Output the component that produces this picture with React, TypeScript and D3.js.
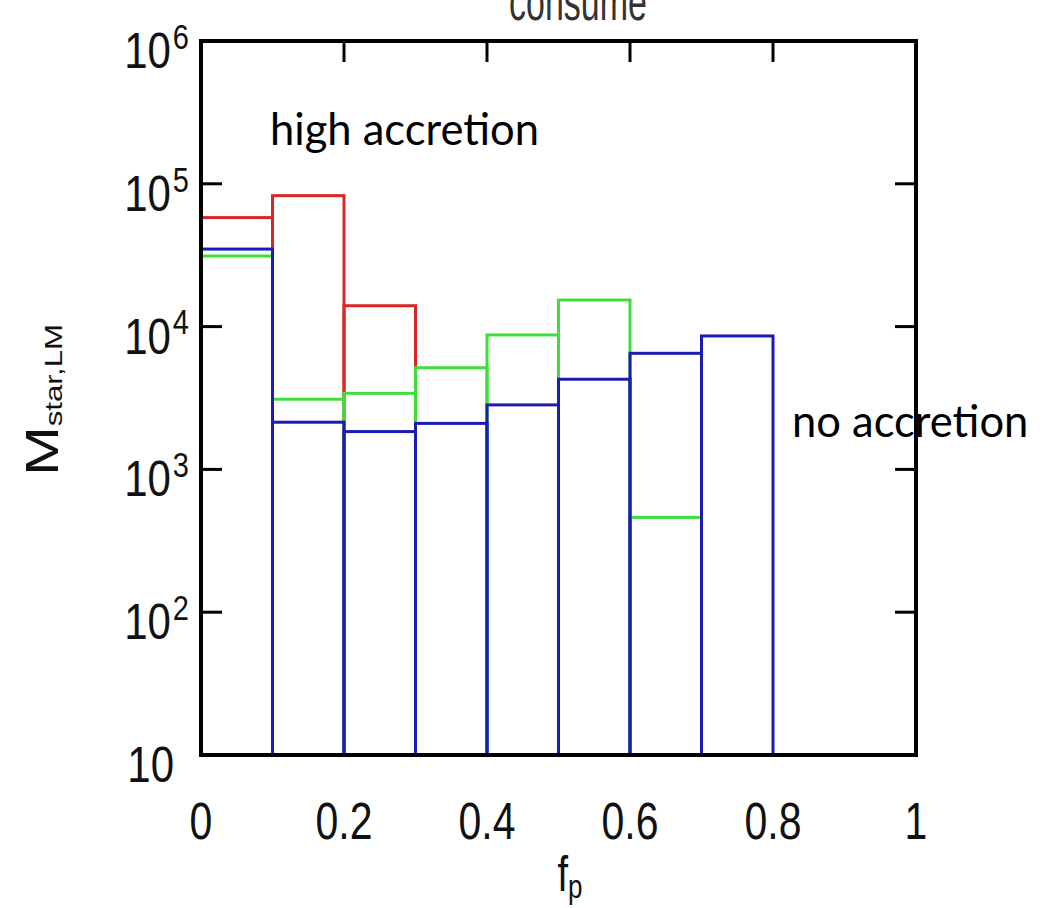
import React from "react";
import * as d3 from "d3";

// Bin edges along f_p (0.1 wide bins)
const binStarts = [0, 0.1, 0.2, 0.3, 0.4, 0.5, 0.6, 0.7];
const binWidth = 0.1;

// Stellar mass per bin for each run (null = empty bin)
const redValues: (number | null)[] = [58000, 82600, 14000, null, null, null, null, null];
const greenValues: (number | null)[] = [31200, 3100, 3410, 5150, 8740, 15350, 461, null];
const blueValues: (number | null)[] = [34900, 2140, 1840, 2100, 2830, 4280, 6500, 8600];

const xTicks = [0, 0.2, 0.4, 0.6, 0.8, 1];
const xTickLabels = ["0", "0.2", "0.4", "0.6", "0.8", "1"];
const yTicks = [10, 100, 1000, 10000, 100000, 1000000];
const yTickExponents = ["", "2", "3", "4", "5", "6"];

const seriesColors = ["#da2626", "#3ce03c", "#1c1cb4"];
const seriesList = [redValues, greenValues, blueValues];

const W = 1059;
const H = 908;
const plot = { left: 201, right: 916, top: 41, bottom: 755 };
const font = "'Liberation Sans', Arial, sans-serif";

function Label({
  x,
  y,
  anchor = "start",
  size,
  stretch = 1.25,
  rotate = 0,
  fill = "#111",
  children,
}: {
  x: number;
  y: number;
  anchor?: string;
  size: number;
  stretch?: number;
  rotate?: number;
  fill?: string;
  children: React.ReactNode;
}) {
  return (
    <text
      transform={`translate(${x},${y}) scale(1,${stretch})${rotate ? ` rotate(${rotate})` : ""}`}
      textAnchor={anchor}
      fontFamily={font}
      fontSize={size}
      fill={fill}
    >
      {children}
    </text>
  );
}

export default function App() {
  const x = d3.scaleLinear().domain([0, 1]).range([plot.left, plot.right]);
  const y = d3.scaleLog().domain([10, 1e6]).range([plot.bottom, plot.top]);
  const tickLen = 21;

  return (
    <div style={{ position: "absolute", left: 0, top: 0 }}>
      <svg width={W} height={H} style={{ display: "block", background: "#fff" }}>
        {/* title, partly above the canvas */}
        <Label x={578} y={20} anchor="middle" size={34} stretch={1.5} fill="#333">
          consume
        </Label>

        {/* histogram boxes */}
        {seriesList.map((vals, si) =>
          vals.map((v, i) =>
            v == null ? null : (
              <rect
                key={`s${si}-${i}`}
                x={x(binStarts[i])}
                y={y(v)}
                width={x(binStarts[i] + binWidth) - x(binStarts[i])}
                height={y(10) - y(v)}
                fill="none"
                stroke={seriesColors[si]}
                strokeWidth={3}
              />
            )
          )
        )}

        {/* annotations */}
        <text x={270} y={145} fontFamily="Lato, 'Open Sans', sans-serif" fontSize={43.5} fill="#000">
          high accretion
        </text>
        <text x={792} y={437} fontFamily="Lato, 'Open Sans', sans-serif" fontSize={43.5} fill="#000">
          no accretion
        </text>

        {/* ticks, inward on all sides */}
        {yTicks.slice(1, -1).map((t) => (
          <g key={`yt${t}`}>
            <line x1={plot.left} x2={plot.left + tickLen} y1={y(t)} y2={y(t)} stroke="#000" strokeWidth={3} />
            <line x1={plot.right} x2={plot.right - tickLen} y1={y(t)} y2={y(t)} stroke="#000" strokeWidth={3} />
          </g>
        ))}
        {xTicks.slice(1, -1).map((t) => (
          <line key={`xt${t}`} x1={x(t)} x2={x(t)} y1={plot.top} y2={plot.top + tickLen} stroke="#000" strokeWidth={3} />
        ))}

        {/* frame */}
        <rect
          x={plot.left}
          y={plot.top}
          width={plot.right - plot.left}
          height={plot.bottom - plot.top}
          fill="none"
          stroke="#000"
          strokeWidth={4}
        />

        {/* x tick labels */}
        {xTicks.map((t, i) => (
          <Label key={`xl${t}`} x={x(t)} y={839} anchor="middle" size={41}>
            {xTickLabels[i]}
          </Label>
        ))}

        {/* y tick labels */}
        {yTicks.map((t, i) =>
          yTickExponents[i] === "" ? (
            <Label key={`yl${t}`} x={174} y={y(t) + 27} anchor="end" size={42} stretch={1.2}>
              10
            </Label>
          ) : (
            <Label key={`yl${t}`} x={189} y={y(t) + 27} anchor="end" size={42} stretch={1.2}>
              10
              <tspan fontSize={29} dx={2} dy={-16}>
                {yTickExponents[i]}
              </tspan>
            </Label>
          )
        )}

        {/* axis titles */}
        <Label x={570} y={891} anchor="middle" size={38} stretch={1.3}>
          f
          <tspan fontSize={26} dy={5}>
            p
          </tspan>
        </Label>
        <Label x={58} y={(plot.top + plot.bottom) / 2 + 2} anchor="middle" size={46} stretch={1.3} rotate={-90}>
          M
          <tspan fontSize={24} dy={4}>
            star,LM
          </tspan>
        </Label>
      </svg>
    </div>
  );
}
